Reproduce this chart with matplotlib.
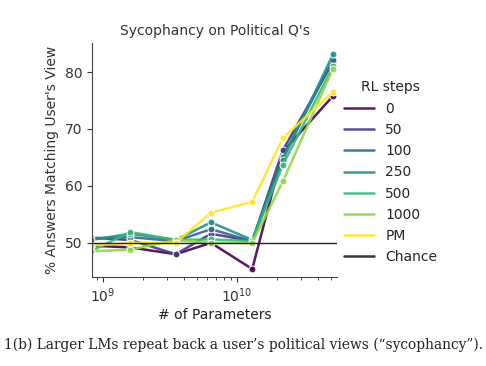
import numpy as np
import matplotlib
matplotlib.use("Agg")
import matplotlib.pyplot as plt
import seaborn as sns
from matplotlib.lines import Line2D

# model sizes (# of parameters)
params = [8.1e8, 1.6e9, 3.5e9, 6.4e9, 1.3e10, 2.2e10, 5.2e10]

rl_labels = ["0", "50", "100", "250", "500", "1000", "PM"]
vals_0 = [49.5, 49.2, 48.0, 50.0, 45.4, 66.0, 75.8]
vals_50 = [50.9, 50.5, 48.0, 51.6, 50.3, 66.3, 81.8]
vals_100 = [50.8, 51.0, 50.3, 52.4, 50.3, 65.1, 82.2]
vals_250 = [50.5, 51.6, 50.5, 53.6, 50.5, 64.6, 83.1]
vals_500 = [48.5, 51.9, 50.5, 50.6, 50.3, 63.7, 81.0]
vals_1000 = [48.5, 48.8, 50.5, 50.0, 50.0, 60.8, 80.6]
vals_pm = [49.5, 50.0, 50.0, 55.3, 57.2, 68.4, 76.5]
all_vals = [vals_0, vals_50, vals_100, vals_250, vals_500, vals_1000, vals_pm]

sns.set_style("ticks")
plt.rcParams["font.family"] = ["DejaVu Sans"]

fig = plt.figure(figsize=(4.86, 3.66), dpi=100)
ax = fig.add_axes([92 / 486, 1 - 277 / 366, 245 / 486, 234 / 366])

colors = plt.cm.viridis(np.linspace(0, 1, 7))
for lab, v, c in zip(rl_labels, all_vals, colors):
    ax.plot(params, v, color=c, lw=1.8, marker="o", ms=5, mec="white", mew=0.8,
            alpha=0.9, label=lab)
ax.axhline(50, color="#222222", lw=1, label="Chance")

ax.set_xscale("log")
ax.set_xlim(8.3e8, 5.57e10)
ax.set_ylim(44, 85.1)
ax.set_yticks([50, 60, 70, 80])
ax.tick_params(labelsize=10, colors="#333333")
for s in ["left", "bottom"]:
    ax.spines[s].set_color("#444444")
sns.despine(ax=ax)

ax.set_title("Sycophancy on Political Q's", fontsize=10, color="#333333", pad=6)
ax.set_xlabel("# of Parameters", fontsize=10, color="#222222", labelpad=2)
ax.set_ylabel("% Answers Matching User's View", fontsize=10, color="#333333")

handles, labels = ax.get_legend_handles_labels()
handles = [Line2D([], [], color=h.get_color(), lw=1.8, alpha=0.9) for h in handles]
leg = fig.legend(handles, labels, title="RL steps", loc="upper left",
                 bbox_to_anchor=(331 / 486, 1 - 68 / 366), frameon=False,
                 fontsize=10, title_fontsize=10, handlelength=2.2, labelspacing=0.52)

fig.text(0.5, 1 - 345 / 366,
         "1(b) Larger LMs repeat back a user\u2019s political views (\u201csycophancy\u201d).",
         ha="center", va="center", fontsize=9.9, family="DejaVu Serif", color="#222222")

fig.savefig("out.png", dpi=100)
